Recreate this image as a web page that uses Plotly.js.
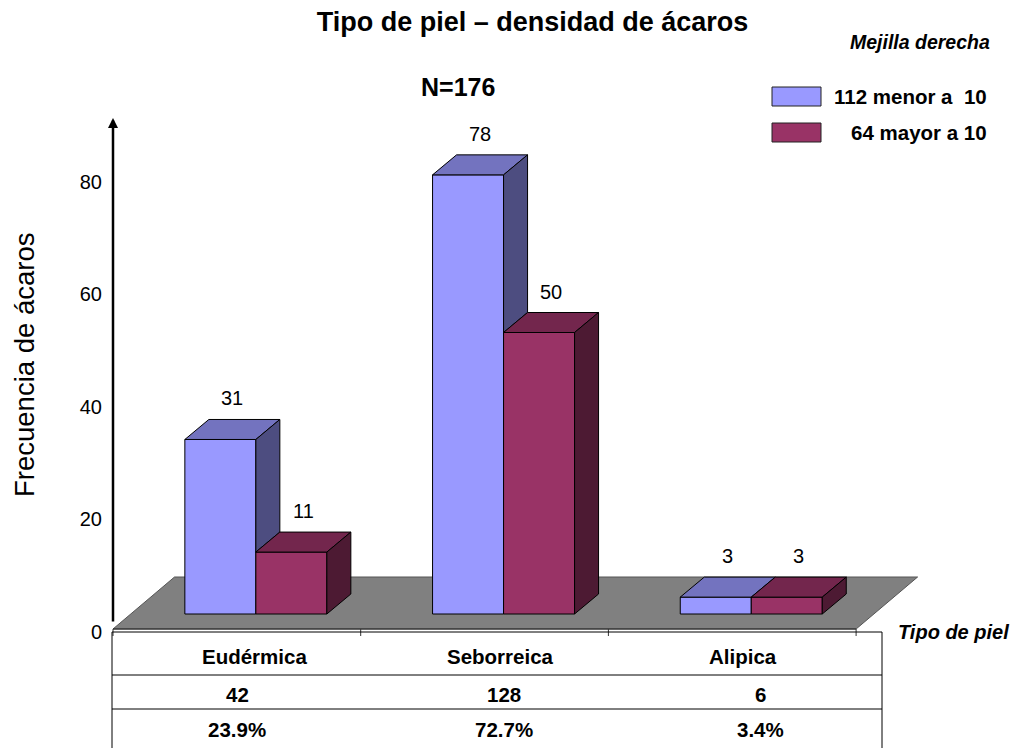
<!DOCTYPE html>
<html>
<head>
<meta charset="utf-8">
<script src="https://cdn.plot.ly/plotly-3.0.1.min.js"></script>
<style>
  html, body { margin: 0; padding: 0; background: #fff; }
  #chart { width: 1017px; height: 748px; }
</style>
</head>
<body>
<div id="chart"></div>
<script>
// ---- data ----
const categories = ['Eudérmica', 'Seborreica', 'Alipica'];
const menorA10 = [31, 78, 3];   // fewer than 10 mites
const mayorA10 = [11, 50, 3];   // more than 10 mites
const yTickVals = [0, 20, 40, 60, 80];

// ---- derived totals ----
const sum = a => a.reduce((s, v) => s + v, 0);
const totals = categories.map((_, i) => menorA10[i] + mayorA10[i]);
const N = sum(totals);
const percents = totals.map(t => (t / N * 100).toFixed(1) + '%');

// ---- page & oblique-view geometry (pixels) ----
const W = 1017, H = 748;
const FONT = 'Liberation Sans, Arial, sans-serif';
const PX_X = 247.7;     // px per category step
const PX_Y = 5.63;      // px per count
const X0_PX = 113;      // floor front-left corner (category -0.5)
const BASE_PX = 614;    // bar base line
const TICK0_PX = 632;   // where the value scale reads 0

const xRange = [-0.5 - X0_PX / PX_X, -0.5 + (W - X0_PX) / PX_X];
const yRange = [-(H - BASE_PX) / PX_Y, BASE_PX / PX_Y];
const y2Range = [-(H - TICK0_PX) / PX_Y, TICK0_PX / PX_Y];

const barW = 71 / PX_X;
const offsets = [-52 / PX_X, 19 / PX_X];
const depth = { dx: 24 / PX_X, dy: 20 / PX_Y };
const floor = { front: -15 / PX_Y, dx: 61.5 / PX_X, dy: 52 / PX_Y };

const px2x = p => p / W;
const px2y = p => 1 - p / H;

const series = [
  { values: menorA10, front: '#9999FF', top: '#7373BF', side: '#4D4D80' },
  { values: mayorA10, front: '#993366', top: '#73264D', side: '#4D1A33' }
];

const xs = categories.map((_, i) => i);
const traces = [];

// front faces
series.forEach((s, k) => {
  traces.push({
    type: 'bar', x: xs, y: s.values, width: barW, offset: offsets[k],
    marker: { color: s.front, line: { color: '#000', width: 1 } },
    hoverinfo: 'skip', showlegend: false
  });
});

// top and side faces
series.forEach((s, k) => {
  s.values.forEach((v, i) => {
    const xa = i + offsets[k], xb = xa + barW;
    const next = series[k + 1];
    const lo = next ? Math.min(next.values[i], v) : 0;
    traces.push({
      type: 'scatter', mode: 'lines',
      x: [xa, xb, xb + depth.dx, xa + depth.dx, xa],
      y: [v, v, v + depth.dy, v + depth.dy, v],
      fill: 'toself', fillcolor: s.top,
      line: { color: '#000', width: 1 }, hoverinfo: 'skip', showlegend: false
    });
    if (v > lo) {
      traces.push({
        type: 'scatter', mode: 'lines',
        x: [xb, xb, xb + depth.dx, xb + depth.dx, xb],
        y: [lo, v, v + depth.dy, lo + depth.dy, lo],
        fill: 'toself', fillcolor: s.side,
        line: { color: '#000', width: 1 }, hoverinfo: 'skip', showlegend: false
      });
    }
  });
});

// ---- shapes: floor, category ticks, table, legend swatches ----
const xL = -0.5, xR = categories.length - 0.5;
const shapes = [{
  type: 'path', xref: 'x', yref: 'y', layer: 'below',
  path: `M${xL},${floor.front} L${xR},${floor.front} L${xR + floor.dx},${floor.front + floor.dy} L${xL + floor.dx},${floor.front + floor.dy} Z`,
  fillcolor: '#808080', line: { color: '#555', width: 1 }
}, {
  type: 'line', xref: 'x', yref: 'y', x0: xL, x1: xR, y0: floor.front, y1: floor.front,
  line: { color: '#222', width: 1 }
}];
for (let j = 0; j <= categories.length; j++) {
  shapes.push({
    type: 'line', xref: 'x', yref: 'y', x0: j - 0.5, x1: j - 0.5,
    y0: floor.front, y1: floor.front - 7 / PX_Y, line: { color: '#333', width: 1 }
  });
}
// table frame and row rules
shapes.push({
  type: 'rect', xref: 'paper', yref: 'paper',
  x0: px2x(112), x1: px2x(882), y0: px2y(632), y1: px2y(770),
  line: { color: '#000', width: 1 }, fillcolor: 'rgba(0,0,0,0)'
});
[675, 709].forEach(p => shapes.push({
  type: 'line', xref: 'paper', yref: 'paper',
  x0: px2x(112), x1: px2x(882), y0: px2y(p), y1: px2y(p),
  line: { color: '#000', width: 1 }
}));
// legend swatches
[[87, 106], [123, 142]].forEach((r, k) => shapes.push({
  type: 'rect', xref: 'paper', yref: 'paper',
  x0: px2x(772), x1: px2x(821), y0: px2y(r[1]), y1: px2y(r[0]),
  fillcolor: series[k].front, line: { color: '#222', width: 1 }
}));

// ---- annotations ----
const ann = [];
const txt = (text, x, y, size, opts = {}) => Object.assign({
  text, x: px2x(x), y: px2y(y), xref: 'paper', yref: 'paper',
  showarrow: false, xanchor: 'center', yanchor: 'middle',
  font: { family: FONT, size, color: '#000' }
}, opts);

// value labels above each bar top
series.forEach((s, k) => {
  s.values.forEach((v, i) => {
    ann.push({
      text: String(v), xref: 'x', yref: 'y',
      x: i + offsets[k] + barW / 2 + depth.dx / 2, y: v + depth.dy,
      yanchor: 'middle', yshift: 21, showarrow: false,
      font: { family: FONT, size: 20, color: '#000' }
    });
  });
});

// value axis arrow
ann.push({
  text: '', xref: 'paper', yref: 'paper', x: px2x(113), y: px2y(118),
  showarrow: true, ax: 0, ay: 505, arrowhead: 2, arrowwidth: 2.5, arrowsize: 0.8,
  arrowcolor: '#000', standoff: 0
});

// axis titles and headings
ann.push(txt('Frecuencia de ácaros', 24, 365, 27.5, { textangle: -90 }));
ann.push(txt('Tipo de piel', 896, 632, 20, { xanchor: 'left',
  font: { family: FONT, size: 20, color: '#000', weight: 'bold', style: 'italic' } }));
ann.push(txt('Mejilla derecha', 992, 42, 19.5, { xanchor: 'right',
  font: { family: FONT, size: 19.5, color: '#000', weight: 'bold', style: 'italic' } }));
ann.push(txt('N=' + N, 457.5, 87, 25, {
  font: { family: FONT, size: 25, color: '#000', weight: 'bold' } }));

// legend labels
const bold20 = { family: FONT, size: 20.5, color: '#000', weight: 'bold' };
ann.push(txt(sum(menorA10) + ' menor a \u00a010', 989, 97, 20.5, { xanchor: 'right', font: bold20 }));
ann.push(txt(sum(mayorA10) + ' mayor a 10', 989, 132, 20.5, { xanchor: 'right', font: bold20 }));

// table text
const headX = [255, 500, 743];
const cellX = [237, 504, 760];
categories.forEach((c, i) => {
  ann.push(txt(c, headX[i], 656, 20, { font: bold20 }));
  ann.push(txt(String(totals[i]), cellX[i], 694, 20, { font: bold20 }));
  ann.push(txt(percents[i], cellX[i], 729, 20, { font: bold20 }));
});

const layout = {
  width: W, height: H,
  margin: { l: 0, r: 0, t: 0, b: 0, pad: 0 },
  paper_bgcolor: '#fff', plot_bgcolor: 'rgba(0,0,0,0)',
  font: { family: FONT, color: '#000' },
  title: {
    text: 'Tipo de piel – densidad de ácaros',
    x: px2x(532.5), xanchor: 'center', xref: 'paper',
    y: px2y(22), yanchor: 'middle', yref: 'container',
    font: { family: FONT, size: 27, color: '#000', weight: 'bold' }
  },
  barmode: 'overlay',
  showlegend: false,
  xaxis: { range: xRange, domain: [0, 1], visible: false, fixedrange: true },
  yaxis: { range: yRange, domain: [0, 1], visible: false, fixedrange: true },
  yaxis2: {
    range: y2Range, overlaying: 'y', anchor: 'free', position: px2x(113), side: 'left',
    tickvals: yTickVals, ticktext: yTickVals.map(String),
    showgrid: false, zeroline: false, showline: false,
    ticks: 'outside', ticklen: 7, tickcolor: 'rgba(0,0,0,0)',
    tickfont: { family: FONT, size: 20, color: '#000' }, fixedrange: true
  },
  shapes, annotations: ann
};

// an invisible trace so the second value axis is drawn
traces.push({ type: 'scatter', x: [0], y: [0], yaxis: 'y2', mode: 'markers',
  marker: { opacity: 0 }, hoverinfo: 'skip', showlegend: false });

Plotly.newPlot('chart', traces, layout, { displayModeBar: false, staticPlot: true });
</script>
</body>
</html>
